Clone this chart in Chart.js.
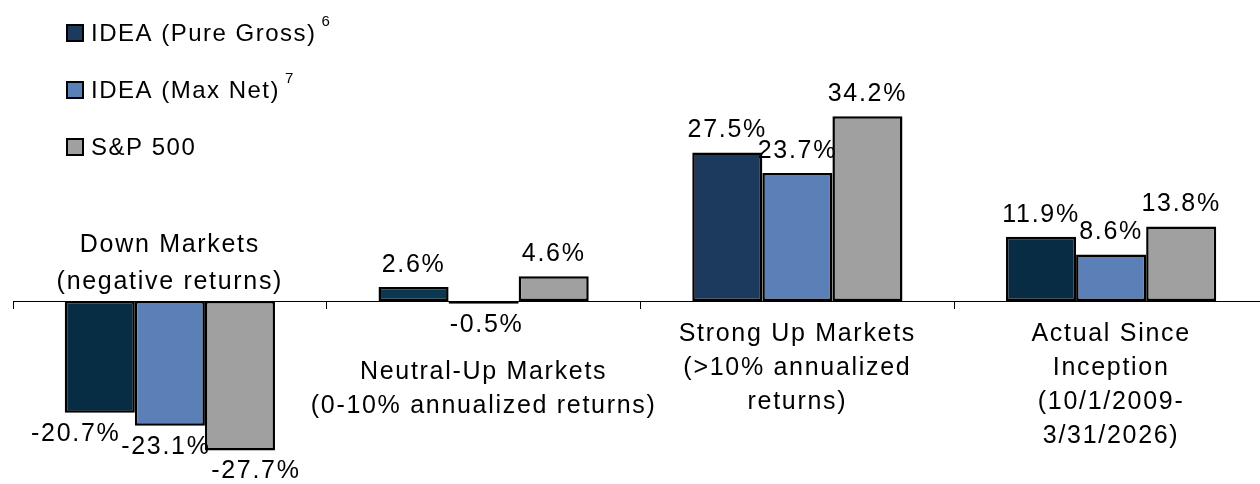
<!DOCTYPE html>
<html>
<head>
<meta charset="utf-8">
<script src="https://cdn.jsdelivr.net/npm/chart.js@4/dist/chart.umd.min.js"></script>
<style>
  html, body { margin: 0; padding: 0; background: #fff; overflow: hidden; }
  #wrap { position: relative; width: 1268px; height: 484px; }
</style>
</head>
<body>
<div id="wrap"><canvas id="myChart"></canvas></div>
<script>
// categories (each one is a list of label lines)
const categories = [
  ['Down Markets', '(negative returns)'],
  ['Neutral-Up Markets', '(0-10% annualized returns)'],
  ['Strong Up Markets', '(>10% annualized', 'returns)'],
  ['Actual Since', 'Inception', '(10/1/2009-', '3/31/2026)']
];
// series
const seriesNames = ['IDEA (Pure Gross)', 'IDEA (Max Net)', 'S&P 500'];
const seriesNotes = ['6', '7', ''];
const pureGross = [-20.7, 2.6, 27.5, 11.9];
const maxNet    = [-23.1, -0.5, 23.7, 8.6];
const sp500     = [-27.7, 4.6, 34.2, 13.8];

// colours
const pureGrossColors = ['#072d45', '#0b3750', '#1b3a5e', '#072c44'];
const legendColors = ['#1b3a5e', '#5b80b8', '#a0a0a0'];

const FONT = '"Liberation Sans", Arial, sans-serif';

function setFont(ctx, size, spacing) {
  ctx.font = size + 'px ' + FONT;
  if ('letterSpacing' in ctx) ctx.letterSpacing = (spacing == null ? 1.7 : spacing) + 'px';
}

// legend in the top left corner, with the footnote numbers
const legendPlugin = {
  id: 'cornerLegend',
  afterDraw(chart) {
    const ctx = chart.ctx;
    ctx.save();
    for (let i = 0; i < seriesNames.length; i++) {
      const cy = 33 + i * 57;
      ctx.fillStyle = legendColors[i];
      ctx.fillRect(67, cy - 8, 16, 16);
      ctx.lineWidth = 2;
      ctx.strokeStyle = '#000';
      ctx.strokeRect(67, cy - 8, 16, 16);
      setFont(ctx, 24, 1.5);
      ctx.fillStyle = '#000';
      ctx.textAlign = 'left';
      ctx.textBaseline = 'middle';
      ctx.fillText(seriesNames[i], 91, cy + 1);
      if (seriesNotes[i]) {
        const w = ctx.measureText(seriesNames[i]).width;
        setFont(ctx, 15, 0);
        ctx.fillText(seriesNotes[i], 91 + w + 5, cy - 11);
      }
    }
    ctx.restore();
  }
};

// value labels + category labels
const labelPlugin = {
  id: 'valueLabels',
  afterDatasetsDraw(chart) {
    const ctx = chart.ctx;
    const zeroY = chart.scales.y.getPixelForValue(0);
    const xScale = chart.scales.x;
    const nSeries = chart.data.datasets.length;
    ctx.save();
    ctx.fillStyle = '#000';
    ctx.textAlign = 'center';
    ctx.textBaseline = 'middle';
    setFont(ctx, 25);

    // lowest point reached under the axis for each category
    const lowest = categories.map(() => zeroY);
    chart.data.datasets.forEach((ds, di) => {
      chart.getDatasetMeta(di).data.forEach((bar, i) => {
        const v = ds.data[i];
        const txt = v.toFixed(1) + '%';
        if (v >= 0) {
          ctx.fillText(txt, bar.x, bar.y - 22);
        } else {
          // spread the labels apart when the whole group is negative
          const allNeg = chart.data.datasets.every(d => d.data[i] < 0);
          const dx = allNeg ? (di - (nSeries - 1) / 2) * 20 - 4 : 3;
          const y = bar.y + 21;
          ctx.fillText(txt, bar.x + dx, y);
          lowest[i] = Math.max(lowest[i], y + 14);
        }
      });
    });

    categories.forEach((lines, i) => {
      const x = xScale.getPixelForValue(i);
      const vals = chart.data.datasets.map(ds => ds.data[i]);
      if (Math.max(...vals) < 0) {
        // all bars go down: put the name above the axis
        lines.forEach((t, k) => {
          ctx.fillText(t, x, zeroY - 19 - (lines.length - 1 - k) * 37);
        });
      } else {
        const start = lowest[i] + 33;
        lines.forEach((t, k) => {
          ctx.fillText(t, x, start + k * 34);
        });
      }
    });
    ctx.restore();
  }
};

const ctx = document.getElementById('myChart').getContext('2d');
const myChart = new Chart(ctx, {
  type: 'bar',
  data: {
    labels: categories.map(c => c.join(' ')),
    datasets: [
      { label: seriesNames[0], data: pureGross, backgroundColor: pureGrossColors },
      { label: seriesNames[1], data: maxNet, backgroundColor: '#5b80b8' },
      { label: seriesNames[2], data: sp500, backgroundColor: '#a0a0a0' }
    ].map(d => Object.assign(d, {
      borderColor: '#000',
      borderWidth: 2.5,
      borderSkipped: false,
      categoryPercentage: 0.67,
      barPercentage: 1.0
    }))
  },
  options: {
    responsive: true,
    maintainAspectRatio: false,
    animation: false,
    layout: { padding: { left: 13, right: 0, top: 85, bottom: 21 } },
    plugins: {
      legend: { display: false },
      tooltip: { enabled: false }
    },
    scales: {
      x: {
        position: { y: 0 },
        offset: true,
        grid: { drawOnChartArea: false, offset: true, color: '#000', tickLength: 7, lineWidth: 1 },
        border: { color: '#000', width: 1 },
        ticks: { display: false }
      },
      y: {
        display: false,
        min: -30,
        max: 40
      }
    }
  },
  plugins: [legendPlugin, labelPlugin]
});
</script>
</body>
</html>
